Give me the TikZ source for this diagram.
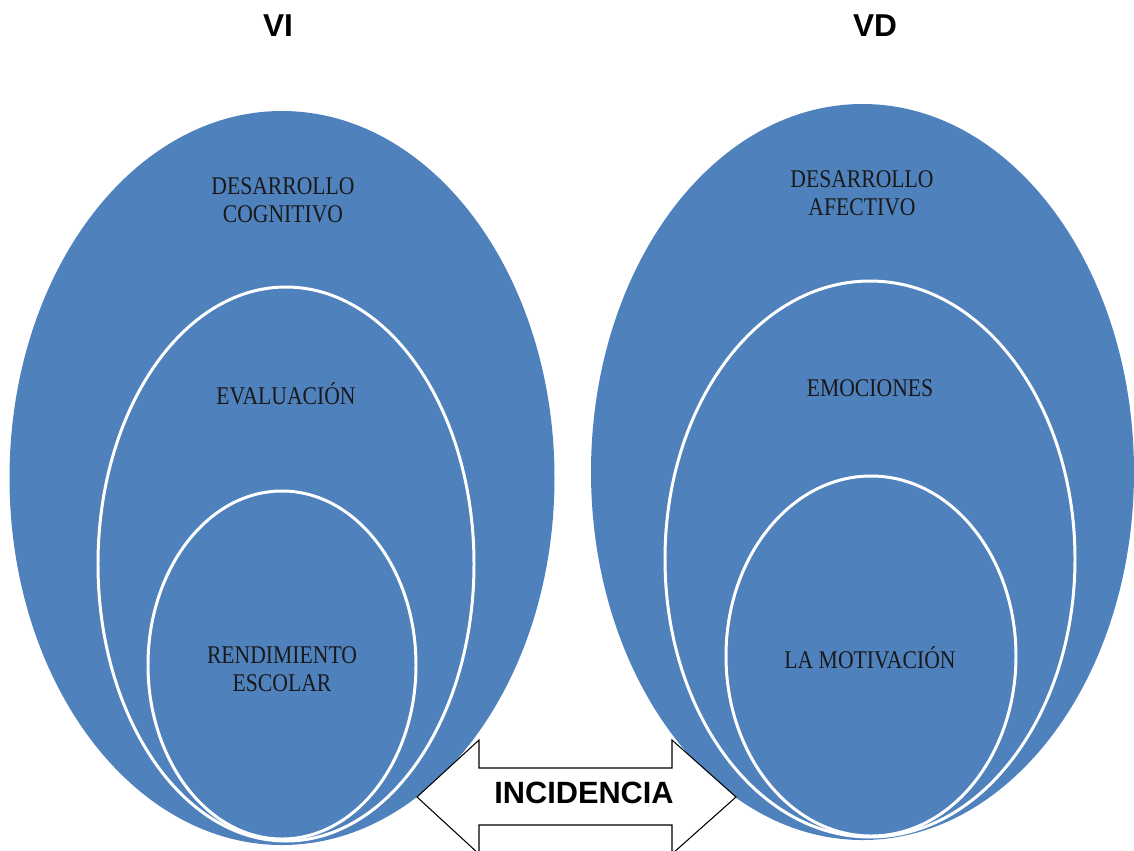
\documentclass[tikz,border=0pt]{standalone}
\usepackage{fontspec}
\setmainfont{Liberation Serif}
\newfontfamily\tagfont[FakeStretch=0.85]{Liberation Serif}
\newfontfamily\headfont{Liberation Sans}
\usetikzlibrary{positioning}
\definecolor{setblue}{HTML}{4F81BD}
\tikzset{
  outerset/.style={fill=setblue},
  innerset/.style={fill=setblue, draw=white, line width=1.7pt},
  settag/.style={font=\tagfont\fontsize{14.5}{15.9}\selectfont, align=center, text=black!90},
  vartag/.style={font=\headfont\bfseries\fontsize{18}{20}\selectfont},
  linkarrow/.style={fill=white, draw=black, line width=0.6pt, line join=miter}
}

\begin{document}
\begin{tikzpicture}[x=0.02cm, y=-0.02cm]
    \useasboundingbox (0,0) rectangle (1134,850);

    % VI
    \fill[outerset] (282,478) ellipse (272.5 and 367);
    \draw[innerset] (286,564) ellipse (188 and 277);
    \draw[innerset] (282,665) ellipse (134 and 174);

    % VD
    \fill[outerset] (862.5,472) ellipse (271.5 and 368);
    \draw[innerset] (870,559) ellipse (205 and 278);
    \draw[innerset] (871,656) ellipse (145 and 180);

    \node[vartag] (vi) at (278,26) {VI};
    \node[vartag] (vd) at (875,26) {VD};

    \node[settag] (cog) at (283,200) {DESARROLLO\\COGNITIVO};
    \node[settag] (eval) at (286,394) {EVALUACIÓN};
    \node[settag] (rend) at (282,669) {RENDIMIENTO\\ESCOLAR};

    \node[settag] (afec) at (862,193) {DESARROLLO\\AFECTIVO};
    \node[settag] (emo) at (870,388) {EMOCIONES};
    \node[settag] (mot) at (870,658) {LA MOTIVACIÓN};

    % double arrow between the two sets
    \draw[linkarrow] (417,797) -- (479,740) -- (479,768) -- (672,768) -- (672,740)
      -- (736,797) -- (672,854) -- (672,825) -- (479,825) -- (479,854) -- cycle;
    \node[vartag, font=\headfont\bfseries\fontsize{17.5}{20}\selectfont] (inc) at (584,793) {INCIDENCIA};
\end{tikzpicture}
\end{document}
